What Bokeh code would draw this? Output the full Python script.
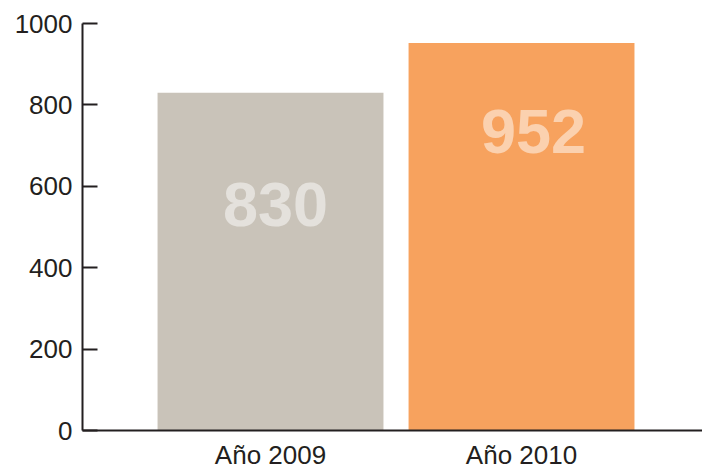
from bokeh.plotting import figure
from bokeh.models import ColumnDataSource, FixedTicker, Range1d
from bokeh.core.properties import value
from bokeh.embed import file_html
from bokeh.resources import INLINE

categories = ["Año 2009", "Año 2010"]
values = [830, 952]
bar_colors = ["#c9c3b9", "#f7a25e"]
y_ticks = [0, 200, 400, 600, 800, 1000]

xs = list(range(len(categories)))
src = ColumnDataSource(dict(
    x=xs, top=values, color=bar_colors,
    label=[str(v) for v in values],
    yoff=[112, 88], xoff=[5, 12],
))

p = figure(width=702, height=472, output_backend="svg", toolbar_location=None,
           x_range=Range1d(-0.749, 1.721), y_range=Range1d(0, 1000),
           min_border_left=82, min_border_right=0, min_border_top=23,
           min_border_bottom=42)
p.outline_line_color = None
p.grid.grid_line_color = None
p.background_fill_color = "white"
p.border_fill_color = "white"

p.vbar(x="x", top="top", bottom=0, width=0.9, color="color", line_color=None, source=src)
p.text(x="x", y="top", text="label", source=src, x_offset="xoff", y_offset="yoff",
       text_align="center", text_baseline="middle", text_color="white", text_alpha=0.5,
       text_font=value("Liberation Sans"), text_font_style="bold", text_font_size="63px")

ax = p.xaxis[0]
ax.ticker = FixedTicker(ticks=xs)
ax.major_label_overrides = {i: c for i, c in zip(xs, categories)}
ax.major_tick_in = 0
ax.major_tick_out = 0
ax.minor_tick_in = 0
ax.minor_tick_out = 0
ax.axis_line_color = "#231f20"
ax.axis_line_width = 2
ax.major_label_text_font = "Liberation Sans"
ax.major_label_text_font_size = "26px"
ax.major_label_text_line_height = 1.0
ax.major_label_text_color = "#231f20"
ax.major_label_standoff = 9

ay = p.yaxis[0]
ay.ticker = FixedTicker(ticks=y_ticks)
ay.major_tick_in = 15
ay.major_tick_out = 0
ay.minor_tick_in = 0
ay.minor_tick_out = 0
ay.major_tick_line_color = "#231f20"
ay.major_tick_line_width = 2
ay.axis_line_color = "#231f20"
ay.axis_line_width = 2
ay.major_label_text_font = "Liberation Sans"
ay.major_label_text_font_size = "26px"
ay.major_label_text_color = "#231f20"
ay.major_label_standoff = 10

open("out.html", "w").write(file_html(p, INLINE))
